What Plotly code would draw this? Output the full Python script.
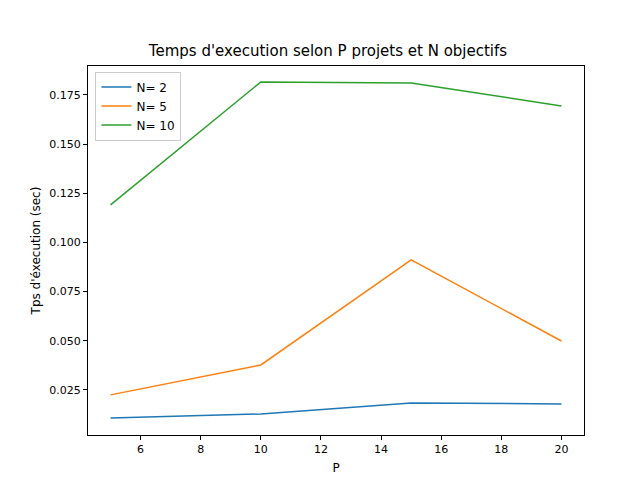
import plotly.graph_objects as go

P = [5, 10, 15, 20]
series = {
    "N= 2": [0.0108, 0.0128, 0.0184, 0.0179],
    "N= 5": [0.0225, 0.0377, 0.0911, 0.0499],
    "N= 10": [0.1191, 0.1816, 0.1811, 0.1694],
}
colors = ["#1f77b4", "#ff7f0e", "#2ca02c"]

fig = go.Figure()
for (name, vals), c in zip(series.items(), colors):
    fig.add_trace(go.Scatter(x=P, y=vals, mode="lines", name=name, line=dict(color=c, width=1.5)))

axis = dict(showgrid=False, zeroline=False, showline=True, linecolor="black", mirror=True,
            ticks="outside", ticklen=4, tickcolor="black", tickfont=dict(size=11, color="black"),
            automargin=False)
fig.update_layout(
    width=640, height=480, plot_bgcolor="white", paper_bgcolor="white",
    margin=dict(l=80, r=64, t=58, b=53),
    font=dict(family="DejaVu Sans", color="black"),
    title=dict(text="Temps d'execution selon P projets et N objectifs", x=0.5, xanchor="center",
               y=1 - 43/480, yanchor="middle", font=dict(size=15)),
    xaxis=dict(axis, range=[4.25, 20.75], dtick=2,
               title=dict(text="P", font=dict(size=12), standoff=8)),
    yaxis=dict(axis, range=[0.0021, 0.1897], tickvals=[0.025, 0.05, 0.075, 0.1, 0.125, 0.15, 0.175],
               tickformat=".3f", title=dict(text="Tps d'éxecution (sec)", font=dict(size=12), standoff=6)),
    legend=dict(x=0.015, y=0.985, xanchor="left", yanchor="top", bgcolor="white",
                bordercolor="#cccccc", borderwidth=1, font=dict(size=12)),
)
fig.write_html("out.html")
